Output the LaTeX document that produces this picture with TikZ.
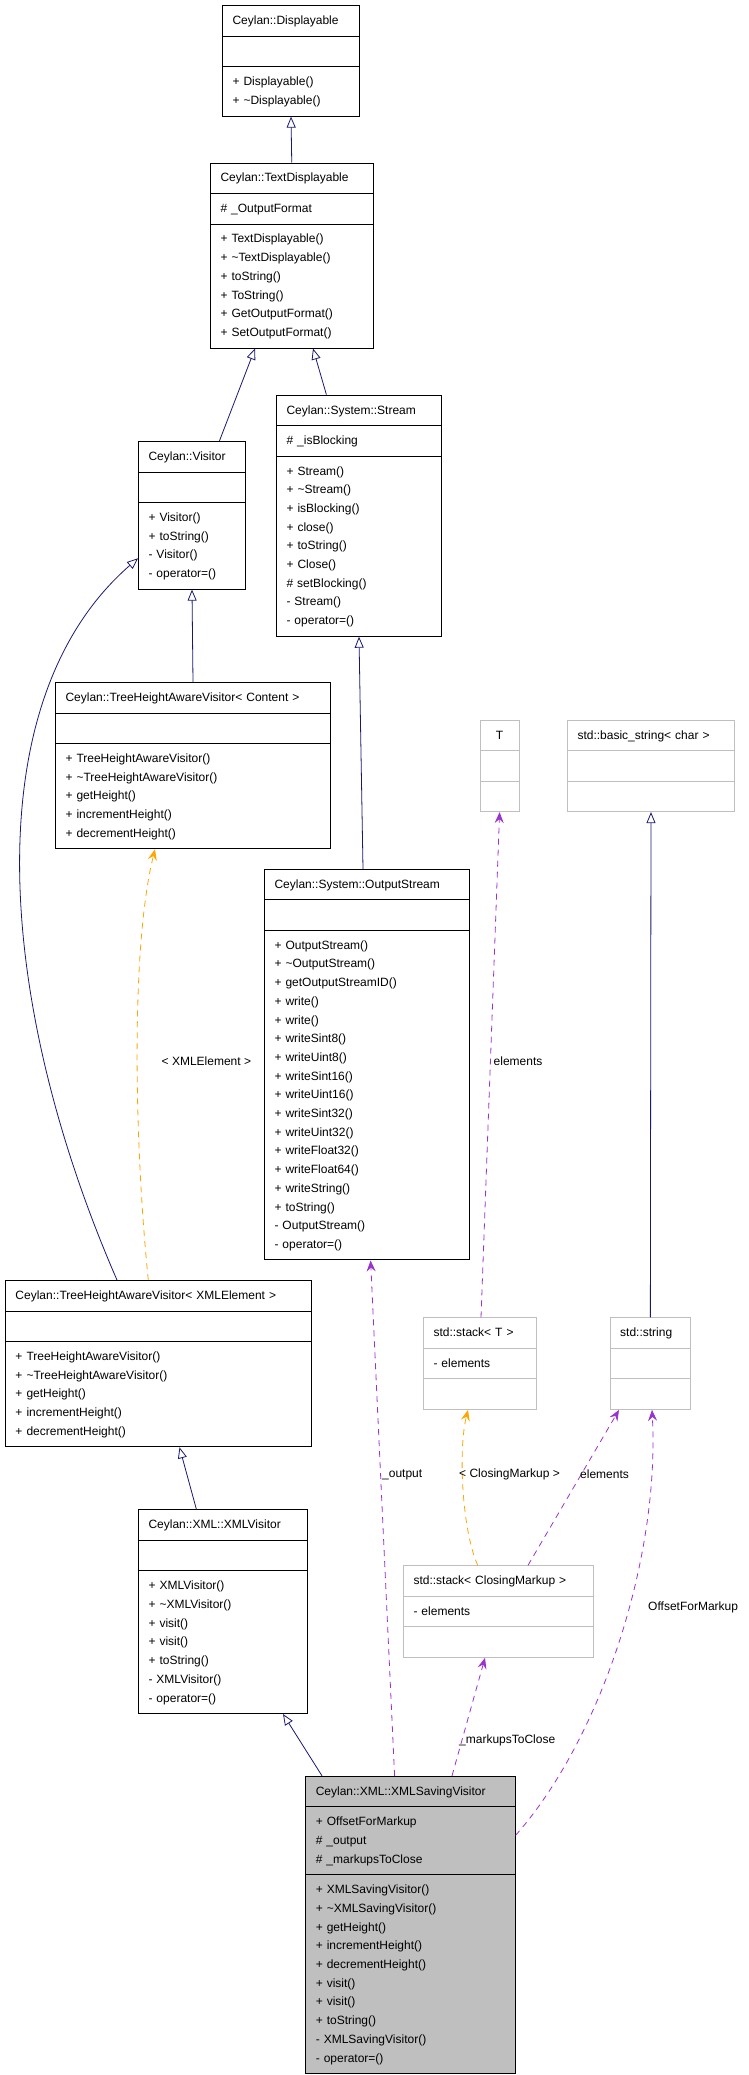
\documentclass[tikz,border=0pt]{standalone}
\usepackage{fontspec}
\setmainfont{Liberation Sans}
\usetikzlibrary{arrows.meta,shapes.multipart}
\definecolor{inh}{HTML}{191970}
\definecolor{use}{HTML}{9A32CD}
\definecolor{tmpl}{HTML}{FFA500}
\definecolor{lgray}{HTML}{BFBFBF}
\begin{document}
\begin{tikzpicture}[x=1pt,y=-1pt,
    cls/.style={rectangle split,rectangle split parts=3,draw=black,line width=1pt,
        anchor=north west,inner xsep=10pt,inner ysep=5.4pt,align=left,
        font=\fontsize{12}{18.7}\selectfont},
    std/.style={cls,draw=lgray},
    isa/.style={draw=inh,line width=0.8pt,-{Triangle[open,length=11pt,width=9pt]}},
    has/.style={draw=use,line width=0.8pt,dash pattern=on 6pt off 5pt,-{Stealth[length=11pt,width=9pt,inset=4pt]}},
    tpl/.style={has,draw=tmpl,-{Stealth[length=11pt,width=9pt,inset=4pt,fill=tmpl]}},
    lbl/.style={anchor=west,font=\fontsize{12}{14}\selectfont,inner sep=0pt}]
\useasboundingbox (0,0) rectangle (749,2075);
% classes
\node[cls,text width=117pt] (disp) at (222,5.4) {\strut Ceylan::Displayable
    \nodepart{two}\strut
    \nodepart{three}\strut+ Displayable()\\\strut+ \textasciitilde Displayable()};
\node[cls,text width=142.5pt] (textd) at (210,162.5) {\strut Ceylan::TextDisplayable
    \nodepart{two}\strut\# \_OutputFormat
    \nodepart{three}\strut+ TextDisplayable()\\\strut+ \textasciitilde TextDisplayable()\\\strut+ toString()\\\strut+ ToString()\\\strut+ GetOutputFormat()\\\strut+ SetOutputFormat()};
\node[cls,text width=145pt] (stream) at (276,394.6) {\strut Ceylan::System::Stream
    \nodepart{two}\strut\# \_isBlocking
    \nodepart{three}\strut+ Stream()\\\strut+ \textasciitilde Stream()\\\strut+ isBlocking()\\\strut+ close()\\\strut+ toString()\\\strut+ Close()\\\strut\# setBlocking()\\\strut- Stream()\\\strut- operator=()};
\node[cls,text width=87pt] (visitor) at (138,441) {\strut Ceylan::Visitor
    \nodepart{two}\strut
    \nodepart{three}\strut+ Visitor()\\\strut+ toString()\\\strut- Visitor()\\\strut- operator=()};
\node[cls,text width=255pt] (thavc) at (55,682) {\strut Ceylan::TreeHeightAwareVisitor< Content >
    \nodepart{two}\strut
    \nodepart{three}\strut+ TreeHeightAwareVisitor()\\\strut+ \textasciitilde TreeHeightAwareVisitor()\\\strut+ getHeight()\\\strut+ incrementHeight()\\\strut+ decrementHeight()};
\node[cls,text width=185pt] (ostream) at (264,868.75) {\strut Ceylan::System::OutputStream
    \nodepart{two}\strut
    \nodepart{three}\strut+ OutputStream()\\\strut+ \textasciitilde OutputStream()\\\strut+ getOutputStreamID()\\\strut+ write()\\\strut+ write()\\\strut+ writeSint8()\\\strut+ writeUint8()\\\strut+ writeSint16()\\\strut+ writeUint16()\\\strut+ writeSint32()\\\strut+ writeUint32()\\\strut+ writeFloat32()\\\strut+ writeFloat64()\\\strut+ writeString()\\\strut+ toString()\\\strut- OutputStream()\\\strut- operator=()};
\node[std,text width=19pt,align=center] (T) at (479.6,719.6) {\strut T
    \nodepart{two}\strut
    \nodepart{three}\strut};
\node[std,text width=147pt] (bstr) at (567,719.6) {\strut std::basic\_string< char >
    \nodepart{two}\strut
    \nodepart{three}\strut};
\node[cls,text width=285.6pt] (thavx) at (5,1280) {\strut Ceylan::TreeHeightAwareVisitor< XMLElement >
    \nodepart{two}\strut
    \nodepart{three}\strut+ TreeHeightAwareVisitor()\\\strut+ \textasciitilde TreeHeightAwareVisitor()\\\strut+ getHeight()\\\strut+ incrementHeight()\\\strut+ decrementHeight()};
\node[std,text width=93pt] (stackT) at (423,1317.4) {\strut std::stack< T >
    \nodepart{two}\strut- elements
    \nodepart{three}\strut};
\node[std,text width=60.3pt] (string) at (609.7,1317.4) {\strut std::string
    \nodepart{two}\strut
    \nodepart{three}\strut};
\node[cls,text width=149pt] (xmlv) at (138,1509.3) {\strut Ceylan::XML::XMLVisitor
    \nodepart{two}\strut
    \nodepart{three}\strut+ XMLVisitor()\\\strut+ \textasciitilde XMLVisitor()\\\strut+ visit()\\\strut+ visit()\\\strut+ toString()\\\strut- XMLVisitor()\\\strut- operator=()};
\node[std,text width=170pt] (stackCM) at (403,1565.3) {\strut std::stack< ClosingMarkup >
    \nodepart{two}\strut- elements
    \nodepart{three}\strut};
\node[cls,fill=lgray,text width=189.3pt] (xsv) at (305.3,1775.8) {\strut Ceylan::XML::XMLSavingVisitor
    \nodepart{two}\strut+ OffsetForMarkup\\\strut\# \_output\\\strut\# \_markupsToClose
    \nodepart{three}\strut+ XMLSavingVisitor()\\\strut+ \textasciitilde XMLSavingVisitor()\\\strut+ getHeight()\\\strut+ incrementHeight()\\\strut+ decrementHeight()\\\strut+ visit()\\\strut+ visit()\\\strut+ toString()\\\strut- XMLSavingVisitor()\\\strut- operator=()};
% inheritance
\draw[isa] (textd.north) -- (disp.south);
\draw[isa] ([xshift=81.4pt]visitor.north west) -- ([xshift=45pt]textd.south west);
\draw[isa] ([xshift=50.4pt]stream.north west) -- ([xshift=103pt]textd.south west);
\draw[isa] (thavc.north) -- (visitor.south);
\draw[isa] ([xshift=99pt]ostream.north west) -- (stream.south);
\draw[isa] ([xshift=112pt]thavx.north west) .. controls (-5,1000) and (-25,700) .. ([yshift=-43pt]visitor.west);
\draw[isa] ([xshift=58.4pt]xmlv.north west) -- ([xshift=174.5pt]thavx.south west);
\draw[isa] ([xshift=16.7pt]xsv.north west) -- ([xshift=145pt]xmlv.south west);
\draw[isa] (string.north) -- (bstr.south);
% usage
\draw[tpl] ([xshift=143.3pt]thavx.north west) .. controls (135,1150) and (130,950) .. ([xshift=100pt]thavc.south west);
\draw[has] ([xshift=89.3pt]xsv.north west) -- ([xshift=106.6pt]ostream.south west);
\draw[has] ([xshift=58pt]stackT.north west) -- (T.south);
\draw[tpl] ([xshift=74.7pt]stackCM.north west) .. controls (462,1530) and (458,1450) .. ([xshift=45pt]stackT.south west);
\draw[has] ([xshift=125pt]stackCM.north west) -- ([xshift=9.3pt]string.south west);
\draw[has] ([xshift=146.7pt]xsv.north west) -- ([xshift=82pt]stackCM.south west);
\draw[has] ([yshift=89.6pt]xsv.east) .. controls (600,1740) and (660,1560) .. ([xshift=42.3pt]string.south west);
% labels
\node[lbl,anchor=center] (lxe) at (206.4,1060.7) {< XMLElement >};
\node[lbl] (lel1) at (493.5,1060.7) {elements};
\node[lbl] (lout) at (382,1474.5) {\_output};
\node[lbl] (lcm) at (459,1474.5) {< ClosingMarkup >};
\node[lbl] (lel2) at (580,1474.5) {elements};
\node[lbl] (lofs) at (648,1607.5) {OffsetForMarkup};
\node[lbl] (lmtc) at (459,1740) {\_markupsToClose};
\end{tikzpicture}
\end{document}
